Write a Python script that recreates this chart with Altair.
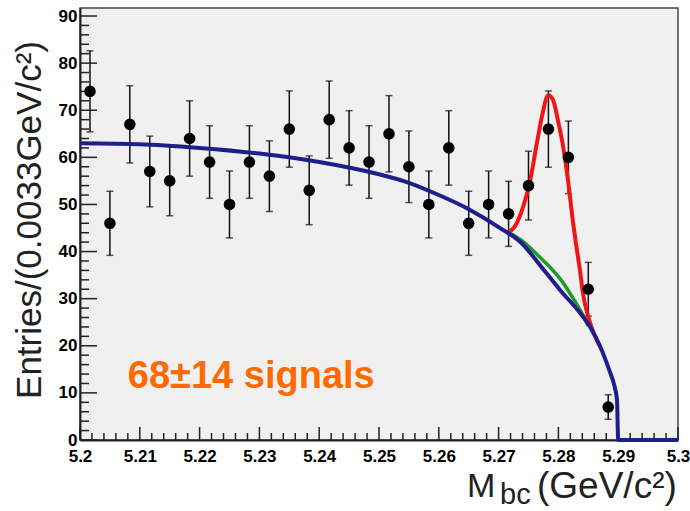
import altair as alt
import pandas as pd

# ---- data ----
bin_center = [5.20167, 5.20500, 5.20833, 5.21167, 5.21500, 5.21833, 5.22167, 5.22500, 5.22833,
              5.23167, 5.23500, 5.23833, 5.24167, 5.24500, 5.24833, 5.25167, 5.25500, 5.25833,
              5.26167, 5.26500, 5.26833, 5.27167, 5.27500, 5.27833, 5.28167, 5.28500, 5.28833]
entries = [74, 46, 67, 57, 55, 64, 59, 50, 59, 56, 66, 53, 68, 62, 59, 65, 58, 50, 62, 46, 50, 48,
           54, 66, 60, 32, 7]
errors = [8.6, 6.8, 8.2, 7.5, 7.4, 8.0, 7.7, 7.1, 7.7, 7.5, 8.1, 7.3, 8.2, 7.9, 7.7, 8.1, 7.6, 7.1,
          7.9, 6.8, 7.1, 6.9, 7.3, 8.1, 7.7, 5.7, 2.6]

bkg_mass = [5.200, 5.210, 5.220, 5.230, 5.240, 5.250, 5.255, 5.260, 5.265, 5.270, 5.274, 5.277,
            5.2803, 5.2836, 5.2853, 5.2870, 5.2886, 5.2893, 5.2898, 5.2900, 5.3000]
bkg_val = [63.0, 62.8, 62.0, 60.8, 59.0, 56.4, 54.6, 52.0, 49.0, 45.2, 41.6, 37.0,
           31.8, 27.0, 24.0, 19.8, 14.5, 11.8, 8.5, 0.0, 0.0]

green_mass = [5.2715, 5.2740, 5.2769, 5.2785, 5.2803, 5.2820, 5.2838, 5.2850]
green_val = [44.2, 42.2, 38.8, 36.8, 34.2, 31.0, 27.2, 24.2]

red_mass = [5.2714, 5.2727, 5.2741, 5.2753, 5.2764, 5.2773, 5.2783, 5.2791, 5.2799, 5.2808,
            5.2816, 5.2824, 5.2831, 5.2836, 5.2841, 5.2850, 5.2860, 5.2870]
red_val = [44.0, 45.3, 49.5, 55.2, 63.0, 69.0, 73.2, 72.2, 68.0, 62.2,
           55.2, 46.7, 40.3, 36.1, 31.2, 26.1, 22.4, 19.8]

x_major = [5.20, 5.21, 5.22, 5.23, 5.24, 5.25, 5.26, 5.27, 5.28, 5.29, 5.30]
y_major = [0, 10, 20, 30, 40, 50, 60, 70, 80, 90]
x_minor = [round(5.2 + 0.002 * i, 3) for i in range(51) if i % 5 != 0]
y_minor = [v for v in range(0, 92, 2) if v % 10 != 0]

annotation = "68\u00b114 signals"
ytitle = "Entries/(0.0033GeV/c\u00b2)"

# ---- tables ----
pts = pd.DataFrame({"m": bin_center, "n": entries,
                    "lo": [a - b for a, b in zip(entries, errors)],
                    "hi": [a + b for a, b in zip(entries, errors)]})
bkg = pd.DataFrame({"m": bkg_mass, "n": bkg_val})
grn = pd.DataFrame({"m": green_mass, "n": green_val})
red = pd.DataFrame({"m": red_mass, "n": red_val})

xs = alt.Scale(domain=[5.2, 5.3], nice=False, zero=False)
ys = alt.Scale(domain=[0, 91.7], nice=False, zero=True)
FONT = "Liberation Sans, Arial, Helvetica, sans-serif"

xaxis = alt.Axis(values=x_major, format=".2~f", labelFont=FONT, labelFontSize=17,
                 labelFontWeight="bold", labelColor="#000", ticks=False, grid=False,
                 domainColor="#222", domainWidth=2, labelPadding=8, title=None, labelFlush=False)
yaxis = alt.Axis(values=y_major, labelFont=FONT, labelFontSize=17, labelFontWeight="bold",
                 labelColor="#000", ticks=False, grid=False, domainColor="#222", domainWidth=2,
                 labelPadding=3, title=None, labelFlush=False)


def X(f):
    return alt.X(f, type="quantitative", scale=xs, axis=xaxis, title=None)


def Y(f):
    return alt.Y(f, type="quantitative", scale=ys, axis=yaxis, title=None)


base_pts = alt.Chart(pts)
err = base_pts.mark_rule(color="#111", strokeWidth=1.5).encode(
    x=X("m"), y=Y("lo"), y2="hi")
cap_lo = base_pts.mark_tick(color="#111", orient="horizontal", size=7, thickness=1.5).encode(
    x=X("m"), y=Y("lo"))
cap_hi = base_pts.mark_tick(color="#111", orient="horizontal", size=7, thickness=1.5).encode(
    x=X("m"), y=Y("hi"))

red_line = alt.Chart(red).mark_line(color="#f21515", strokeWidth=4, interpolate="monotone").encode(
    x=X("m"), y=Y("n"))
grn_line = alt.Chart(grn).mark_line(color="#1f9a2a", strokeWidth=3.5, interpolate="monotone").encode(
    x=X("m"), y=Y("n"))
bkg_line = alt.Chart(bkg).mark_line(color="#1e1e8c", strokeWidth=4, interpolate="monotone").encode(
    x=X("m"), y=Y("n"))

dots = base_pts.mark_circle(color="#000", opacity=1, size=135).encode(x=X("m"), y=Y("n"))

# inward ticks
ymaj = alt.Chart(pd.DataFrame({"t": y_major})).mark_rule(color="#222", strokeWidth=1.5).encode(
    y=Y("t"), x=alt.value(0), x2=alt.value(17))
ymin = alt.Chart(pd.DataFrame({"t": y_minor})).mark_rule(color="#222", strokeWidth=1.5).encode(
    y=Y("t"), x=alt.value(0), x2=alt.value(9))
xmaj = alt.Chart(pd.DataFrame({"t": x_major})).mark_rule(color="#222", strokeWidth=1.5).encode(
    x=X("t"), y=alt.value(432), y2=alt.value(419))
xmin = alt.Chart(pd.DataFrame({"t": x_minor})).mark_rule(color="#222", strokeWidth=1.5).encode(
    x=X("t"), y=alt.value(432), y2=alt.value(425))

ann = alt.Chart(pd.DataFrame({"x": [5.208], "y": [11.0], "t": [annotation]})).mark_text(
    font=FONT, fontSize=38, fontWeight="bold", color="#ff6a00", align="left",
    baseline="alphabetic").encode(x=X("x"), y=Y("y"), text="t:N")

one = pd.DataFrame({"a": [0]})
t_m = alt.Chart(one).mark_text(font=FONT, fontSize=34, color="#222", align="left",
                               baseline="alphabetic").encode(
    x=alt.value(387), y=alt.value(489), text=alt.value("M"))
t_bc = alt.Chart(one).mark_text(font=FONT, fontSize=29, color="#222", align="left",
                                baseline="alphabetic").encode(
    x=alt.value(420), y=alt.value(496), text=alt.value("bc"))
t_unit = alt.Chart(one).mark_text(font=FONT, fontSize=37, color="#222", align="left",
                                  baseline="alphabetic").encode(
    x=alt.value(457), y=alt.value(490), text=alt.value("(GeV/c\u00b2)"))
t_y = alt.Chart(one).mark_text(font=FONT, fontSize=35, color="#222", align="center",
                               baseline="middle", angle=270).encode(
    x=alt.value(-50), y=alt.value(212), text=alt.value(ytitle))

chart = alt.layer(
    ymin, ymaj, xmin, xmaj, err, cap_lo, cap_hi, red_line, grn_line, bkg_line, dots, ann,
    t_m, t_bc, t_unit, t_y
).properties(
    width=598, height=432,
    autosize=alt.AutoSizeParams(type="none"),
    padding={"left": 80, "top": 8, "right": 12, "bottom": 71},
    background="#ffffff",
).configure_view(
    fill="#f0f0f0", stroke="#444", strokeWidth=1.5
)

chart.save("out.html", embed_options={"renderer": "svg", "actions": False})
